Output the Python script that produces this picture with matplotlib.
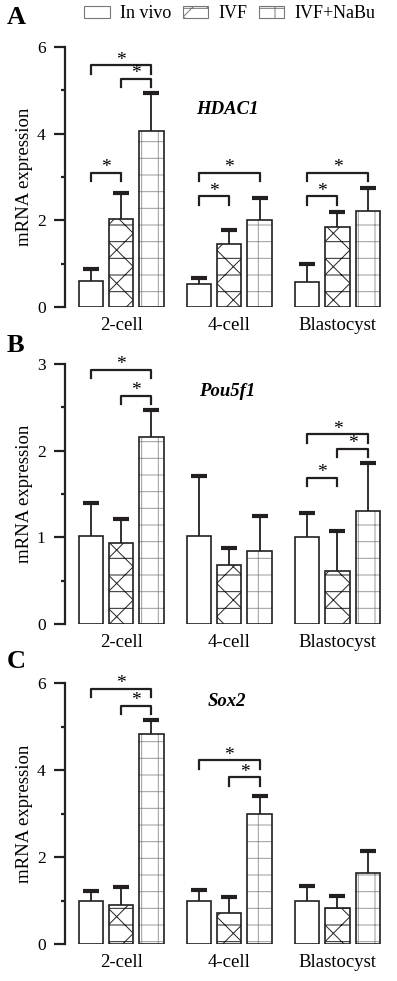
import matplotlib.pyplot as plt
from matplotlib.patches import Patch
from matplotlib.ticker import MultipleLocator

plt.rcParams['font.family'] = ['Liberation Serif', 'DejaVu Serif']
plt.rcParams['hatch.linewidth'] = 0.7

groups = ['2-cell', '4-cell', 'Blastocyst']
treatments = ['In vivo', 'IVF', 'IVF+NaBu']

# bar heights and upper error, one row per treatment (in vivo, IVF, IVF+NaBu)
hdac1_mean = [[0.61, 0.53, 0.57], [2.02, 1.46, 1.85], [4.05, 2.00, 2.21]]
hdac1_err = [[0.26, 0.15, 0.42], [0.62, 0.32, 0.34], [0.88, 0.52, 0.53]]
pou5f1_mean = [[1.01, 1.01, 1.00], [0.93, 0.68, 0.61], [2.16, 0.84, 1.30]]
pou5f1_err = [[0.39, 0.70, 0.28], [0.28, 0.20, 0.46], [0.31, 0.41, 0.56]]
sox2_mean = [[0.98, 0.99, 1.00], [0.90, 0.72, 0.82], [4.83, 2.99, 1.63]]
sox2_err = [[0.24, 0.24, 0.33], [0.42, 0.35, 0.28], [0.32, 0.41, 0.51]]

# significance brackets: (group, treatment a, treatment b, bracket height)
hdac1_sig = [(0, 0, 2, 5.58), (0, 1, 2, 5.26), (0, 0, 1, 3.10),
             (1, 0, 2, 3.10), (1, 0, 1, 2.55),
             (2, 0, 2, 3.10), (2, 0, 1, 2.55)]
pou5f1_sig = [(0, 0, 2, 2.93), (0, 1, 2, 2.63),
              (2, 0, 2, 2.19), (2, 1, 2, 2.02), (2, 0, 1, 1.69)]
sox2_sig = [(0, 0, 2, 5.86), (0, 1, 2, 5.48),
            (1, 0, 2, 4.22), (1, 1, 2, 3.83)]

edge = '#231f20'
hatches = [None, 'x-', '+']
hatch_colors = [edge, '#222222', '#9a9a9a']
offsets = [-0.28, 0.0, 0.28]
width = 0.225


def draw_panel(ax, mean, err, sig, ymax, major, minor, gene, gene_y):
    for t in range(3):
        xs = [g + offsets[t] for g in range(len(groups))]
        if hatches[t]:
            ax.bar(xs, mean[t], width, color='white', edgecolor=hatch_colors[t],
                   hatch=hatches[t], linewidth=0, zorder=2)
        ax.bar(xs, mean[t], width, fill=False, edgecolor=edge, linewidth=1.2, zorder=3)
        tops = [m + e for m, e in zip(mean[t], err[t])]
        ax.vlines(xs, mean[t], tops, color=edge, lw=1.3, zorder=1)
        ax.plot(xs, tops, ls='none', marker='_', ms=11, mew=3, color=edge, zorder=4)

    d = 0.032 * ymax
    for g, a, b, y in sig:
        x1, x2 = g + offsets[a], g + offsets[b]
        ax.plot([x1, x1, x2, x2], [y - d, y, y, y - d], color=edge, lw=1.6)
        ax.annotate('*', ((x1 + x2) / 2, y), xytext=(0, 0.5), textcoords='offset points',
                    ha='center', va='baseline', fontsize=14)

    ax.text(0.98, gene_y, gene, fontsize=13.5, fontweight='bold', fontstyle='italic',
            ha='center', va='center')

    ax.set_xlim(-0.52, 2.44)
    ax.set_ylim(0, ymax)
    ax.set_xticks(range(len(groups)), groups)
    ax.yaxis.set_major_locator(MultipleLocator(major))
    ax.yaxis.set_minor_locator(MultipleLocator(minor))
    for s in ['top', 'right', 'bottom']:
        ax.spines[s].set_visible(False)
    ax.spines['left'].set_linewidth(1.6)
    ax.spines['left'].set_color(edge)
    ax.tick_params(axis='x', length=0, pad=7, labelsize=13.5)
    ax.tick_params(axis='y', which='major', length=8, width=1.6, pad=6, labelsize=12.5, color=edge)
    ax.tick_params(axis='y', which='minor', length=3, width=1.6, color=edge)
    ax.set_ylabel('mRNA expression', fontsize=13.5)
    ax.yaxis.set_label_coords(-0.10, 0.5)


fig = plt.figure(figsize=(3.97, 9.81), dpi=100)
W, H = 397, 981
left, right = 65 / W, 385 / W

panels = [
    ('A', 'HDAC1', hdac1_mean, hdac1_err, hdac1_sig, 6, 2, 1, 4.55, 307, 47, 17),
    ('B', 'Pou5f1', pou5f1_mean, pou5f1_err, pou5f1_sig, 3, 1, 0.5, 2.68, 624, 364, 345),
    ('C', 'Sox2', sox2_mean, sox2_err, sox2_sig, 6, 2, 1, 5.58, 944, 683, 662),
]
for letter, gene, mean, err, sig, ymax, major, minor, gy, ybot, ytop, ly in panels:
    ax = fig.add_axes([left, 1 - ybot / H, right - left, (ybot - ytop) / H])
    draw_panel(ax, mean, err, sig, ymax, major, minor, gene, gy)
    fig.text(7 / W, 1 - ly / H, letter, fontsize=19, fontweight='bold', ha='left', va='center')

handles = [Patch(facecolor='white', edgecolor='#777777', hatch=h, linewidth=0.8)
           for h in hatches]
fig.legend(handles, treatments, loc='center', bbox_to_anchor=(230 / W, 1 - 14 / H),
           ncol=3, frameon=False, fontsize=13, handlelength=1.4, handleheight=0.6,
           handletextpad=0.6, columnspacing=0.6, borderpad=0)

fig.savefig('out.png', dpi=100)
